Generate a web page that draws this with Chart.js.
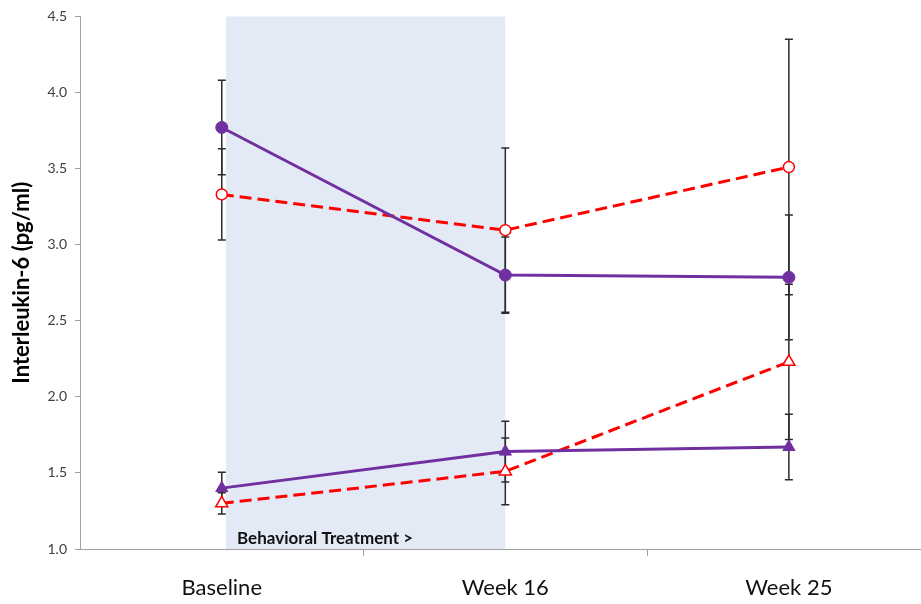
<!DOCTYPE html>
<html>
<head>
<meta charset="utf-8">
<script src="https://cdn.jsdelivr.net/npm/chart.js@4.4.1/dist/chart.umd.min.js"></script>
<style>
  html, body { margin: 0; padding: 0; background: #ffffff; overflow: hidden; }
  #wrap { width: 921px; height: 604px; }
</style>
</head>
<body>
<div id="wrap"><canvas id="c" width="921" height="604"></canvas></div>
<script>
// ---- data ----
const categories = ['Baseline', 'Week 16', 'Week 25'];
const yTicks = [1.0, 1.5, 2.0, 2.5, 3.0, 3.5, 4.0, 4.5];

const purpleCircle = [3.77, 2.80, 2.785];
const purpleCircleErr = [0.31, 0.25, 0.41];

const redCircle = [3.33, 3.095, 3.51];
const redCircleErr = [0.30, 0.54, 0.84];

const purpleTriangle = [1.40, 1.64, 1.67];
const purpleTriangleErr = [0.105, 0.20, 0.215];

const redTriangle = [1.30, 1.51, 2.23];
const redTriangleErr = [0.07, 0.22, 0.51];

const treatmentSpan = [0.015, 1.0];   // category-index range of the shaded band
const treatmentLabel = 'Behavioral Treatment >';

const PURPLE = '#7030A0';
const RED = '#FF0000';
const FONT = "Lato, 'Open Sans', 'Liberation Sans', sans-serif";

function pts(arr) { return arr.map((v, i) => ({ x: i, y: v })); }

const shadePlugin = {
  id: 'shade',
  beforeDatasetsDraw(chart) {
    const { ctx, chartArea, scales } = chart;
    const x0 = scales.x.getPixelForValue(treatmentSpan[0]);
    const x1 = scales.x.getPixelForValue(treatmentSpan[1]);
    ctx.save();
    ctx.fillStyle = '#E4EAF5';
    ctx.fillRect(x0, chartArea.top, x1 - x0, chartArea.bottom - chartArea.top);
    ctx.fillStyle = '#111111';
    ctx.font = "bold 17px " + FONT;
    ctx.textBaseline = 'alphabetic';
    ctx.textAlign = 'left';
    ctx.fillText(treatmentLabel, x0 + 11, chartArea.bottom - 5);

    // error bars
    ctx.strokeStyle = '#2b2b2b';
    ctx.lineWidth = 1.5;
    chart.data.datasets.forEach(ds => {
      ds.data.forEach((p, i) => {
        const e = ds.err[i];
        const x = scales.x.getPixelForValue(p.x);
        const yt = scales.y.getPixelForValue(p.y + e);
        const yb = scales.y.getPixelForValue(p.y - e);
        ctx.beginPath();
        ctx.moveTo(x, yt); ctx.lineTo(x, yb);
        ctx.moveTo(x - 4, yt); ctx.lineTo(x + 4, yt);
        ctx.moveTo(x - 4, yb); ctx.lineTo(x + 4, yb);
        ctx.stroke();
      });
    });
    ctx.restore();
  }
};

new Chart(document.getElementById('c'), {
  type: 'scatter',
  data: {
    datasets: [
      { data: pts(purpleCircle), err: purpleCircleErr, showLine: true,
        borderColor: PURPLE, borderWidth: 3, pointStyle: 'circle', pointRadius: 6,
        pointBackgroundColor: PURPLE, pointBorderColor: PURPLE, pointBorderWidth: 1 },
      { data: pts(redCircle), err: redCircleErr, showLine: true,
        borderColor: RED, borderWidth: 3, borderDash: [12, 6], pointStyle: 'circle', pointRadius: 5.5,
        pointBackgroundColor: '#ffffff', pointBorderColor: RED, pointBorderWidth: 1.5 },
      { data: pts(purpleTriangle), err: purpleTriangleErr, showLine: true,
        borderColor: PURPLE, borderWidth: 3, pointStyle: 'triangle', pointRadius: 7,
        pointBackgroundColor: PURPLE, pointBorderColor: PURPLE, pointBorderWidth: 1 },
      { data: pts(redTriangle), err: redTriangleErr, showLine: true,
        borderColor: RED, borderWidth: 3, borderDash: [12, 6], pointStyle: 'triangle', pointRadius: 7,
        pointBackgroundColor: '#ffffff', pointBorderColor: RED, pointBorderWidth: 1.5 }
    ]
  },
  options: {
    responsive: false,
    animation: false,
    layout: { autoPadding: false, padding: { top: 15, right: 0, left: 0, bottom: 0 } },
    plugins: { legend: { display: false }, tooltip: { enabled: false } },
    scales: {
      x: {
        type: 'linear',
        min: -0.5,
        max: 2.466,
        afterBuildTicks(scale) {
          scale.ticks = [0, 0.5, 1, 1.5, 2].map(v => ({ value: v }));
        },
        afterFit(scale) { scale.height = 55; scale.paddingRight = 0; scale.paddingLeft = 0; },
        ticks: {
          autoSkip: false,
          maxRotation: 0,
          padding: 19,
          color: '#111111',
          font: { family: FONT, size: 22 },
          callback: v => (Number.isInteger(v) ? categories[v] : '')
        },
        grid: {
          drawOnChartArea: false,
          drawTicks: true,
          tickLength: 7,
          lineWidth: 1,
          color: c => (c.tick && Number.isInteger(c.tick.value) ? 'rgba(0,0,0,0)' : '#a0a0a0')
        },
        border: { color: '#a0a0a0', width: 1 }
      },
      y: {
        type: 'linear',
        min: 1.0,
        max: 4.5,
        afterBuildTicks(scale) {
          scale.ticks = yTicks.map(v => ({ value: v }));
        },
        afterFit(scale) { scale.width = 80; },
        ticks: {
          padding: 8,
          color: '#404040',
          font: { family: FONT, size: 14 },
          callback: v => Number(v).toFixed(1)
        },
        grid: {
          drawOnChartArea: false,
          drawTicks: true,
          tickLength: 5,
          color: '#a0a0a0'
        },
        border: { color: '#a0a0a0', width: 1 },
        title: {
          display: true,
          text: 'Interleukin-6 (pg/ml)',
          color: '#000000',
          font: { family: FONT, size: 22, weight: 'bold' },
          padding: { top: 9, bottom: 0 }
        }
      }
    }
  },
  plugins: [shadePlugin]
});
</script>
</body>
</html>
